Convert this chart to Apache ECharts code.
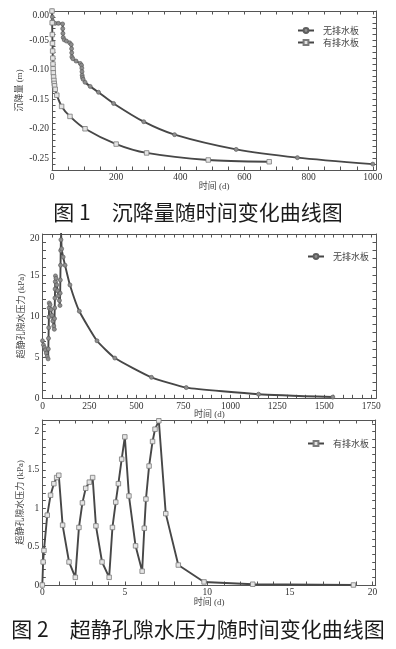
<!DOCTYPE html>
<html><head><meta charset="utf-8">
<script src="https://cdn.jsdelivr.net/npm/echarts/dist/echarts.min.js"></script>
<style>html,body{margin:0;padding:0;background:#fff}#c{width:396px;height:649px}</style>
</head><body><div id="c"></div>
<script>
// ---------- Data ----------
// Fig.1 settlement (m) vs time (d)
const t1No = [0,1,2,4,10,20,33,33.5,34,35,38,45,55,60,61,61.5,62,65,75,88,92,93,93.5,94,95,97,103,119,145,192,286,382,574,765,1000];
const s1No = [0,-0.01,-0.017,-0.02,-0.021,-0.021,-0.022,-0.03,-0.038,-0.045,-0.049,-0.051,-0.054,-0.057,-0.064,-0.071,-0.078,-0.081,-0.085,-0.089,-0.092,-0.097,-0.103,-0.109,-0.113,-0.116,-0.121,-0.128,-0.138,-0.157,-0.188,-0.21,-0.235,-0.249,-0.26];
const t1Yes = [0,0.5,1,1.5,2,2.5,3,3.5,4,5,6,7,8,10,15,30,56,103,200,295,487,677];
const s1Yes = [0,-0.02,-0.04,-0.055,-0.068,-0.08,-0.09,-0.098,-0.105,-0.112,-0.118,-0.123,-0.127,-0.133,-0.143,-0.162,-0.179,-0.2,-0.226,-0.241,-0.253,-0.256];
// Fig.2 upper: excess pore pressure (kPa), no drain board
const t2No = [0,5,10,15,20,25,30,31,32,33,34,35,36,40,45,50,55,60,63,64,65,66,67,68,69,72,76,80,85,90,93,94,95,96,97,98,99,102,110,120,146,196,290,385,580,765,1150,1545];
const p2No = [7.0,6.5,6.2,5.9,5.5,5.1,4.8,6.0,7.3,8.6,9.9,11.0,11.6,11.4,10.8,10.1,9.4,8.8,8.4,9.7,11.0,12.2,13.3,14.2,14.9,14.6,13.8,13.1,12.5,11.9,11.3,12.8,14.4,16.2,18.0,19.3,20.2,18.2,17.2,16.2,13.8,10.6,7.0,4.9,2.55,1.3,0.5,0.15];
// Fig.2 lower: excess pore pressure (kPa), with drain board
const t3Yes = [0,0.05,0.1,0.3,0.5,0.7,0.87,1.0,1.23,1.62,2.0,2.22,2.43,2.63,2.85,3.05,3.25,3.62,4.05,4.25,4.45,4.61,4.81,5.0,5.25,5.65,6.05,6.18,6.28,6.47,6.68,6.83,7.06,7.48,8.24,9.8,12.75,18.85];
const p3Yes = [0,0.3,0.45,0.91,1.17,1.32,1.40,1.43,0.78,0.30,0.10,0.75,1.07,1.26,1.34,1.40,0.77,0.30,0.10,0.75,1.08,1.32,1.64,1.93,1.16,0.51,0.18,0.74,1.12,1.55,1.87,2.03,2.14,0.93,0.26,0.04,0.01,0.0];

// Tick labels
const x1Labels = [0,200,400,600,800,1000];
const y1Labels = [0,-0.05,-0.10,-0.15,-0.20,-0.25];
const x2Labels = [0,250,500,750,1000,1250,1500,1750];
const y2Labels = [0,5,10,15,20];
const x3Labels = [0,5,10,15,20];
const y3Labels = [0,0.5,1,1.5,2];

const nameNo = '无排水板';
const nameYes = '有排水板';
const cap1 = '图 1　沉降量随时间变化曲线图';
const cap2 = '图 2　超静孔隙水压力随时间变化曲线图';

// ---------- helpers ----------
function steps(a, b, s) { const r = []; for (let v = a; v <= b + 1e-9; v += s) r.push(+v.toFixed(6)); return r; }
const zip = (a, b) => a.map((v, i) => [v, b[i]]);
const numFont = 'Liberation Serif, Noto Sans CJK SC';
const axisCol = '#555';
const lblCol = '#333';

function axisPair(kind, gi, min, max, labels, ticks, fmt, name, nameGap, topVal) {
  const base = {
    type: 'value', gridIndex: gi, min: min, max: max,
    splitLine: { show: false },
    axisLine: { show: true, onZero: false, lineStyle: { color: axisCol, width: 1 } },
    axisTick: { show: true, inside: true, length: 3.5, customValues: ticks, lineStyle: { color: axisCol, width: 1 } }
  };
  const main = Object.assign({}, base, {
    position: kind === 'x' ? 'bottom' : 'left',
    axisLabel: {
      customValues: labels,
      formatter: v => (topVal !== undefined && Math.abs(v - topVal) < 1e-9) ? '{sh|' + fmt(v) + '}' : fmt(v),
      rich: { sh: { padding: [9, 0, 0, 0], fontFamily: numFont, fontSize: 9.5, color: lblCol } },
      fontFamily: numFont, fontSize: 9.5, color: lblCol, margin: 3 },
    name: name, nameLocation: 'middle', nameGap: nameGap, nameMoveOverlap: false,
    nameRotate: kind === 'y' ? 90 : 0,
    nameTextStyle: { fontFamily: numFont, fontSize: 9, color: '#444' }
  });
  const mirror = Object.assign({}, base, {
    position: kind === 'x' ? 'top' : 'right',
    axisLabel: { show: false }
  });
  return [main, mirror];
}

const lineGray = '#474747';
function circSeries(name, xi, yi, data, smooth) {
  return { type: 'line', name: name, xAxisIndex: xi, yAxisIndex: yi, data: data,
    symbol: 'circle', symbolSize: 4, showSymbol: true, clip: true,
    smooth: smooth,
    lineStyle: { color: lineGray, width: 1.9 },
    itemStyle: { color: '#8e8e8e', borderColor: '#5e5e5e', borderWidth: 0.7 } };
}
function sqSeries(name, xi, yi, data, smooth) {
  return { type: 'line', name: name, xAxisIndex: xi, yAxisIndex: yi, data: data,
    symbol: 'rect', symbolSize: 4.5, showSymbol: true, clip: true,
    smooth: smooth,
    lineStyle: { color: lineGray, width: 1.9 },
    itemStyle: { color: '#e4e4e4', borderColor: '#7a7a7a', borderWidth: 0.8 } };
}

const x1 = axisPair('x', 0, 0, 1010, x1Labels, steps(0, 1000, 50), v => String(v), '时间 (d)', 12);
const y1 = axisPair('y', 0, -0.27, 0, y1Labels, steps(-0.27, 0, 0.01), v => v.toFixed(2), '沉降量 (m)', 28, 0);
const x2 = axisPair('x', 1, 0, 1775, x2Labels, steps(0, 1750, 50), v => String(v), '时间 (d)', 12);
const y2 = axisPair('y', 1, 0, 20, y2Labels, steps(0, 20, 1), v => String(v), '超静孔隙水压力 (kPa)', 16, 20);
const x3 = axisPair('x', 2, 0, 20.2, x3Labels, steps(0, 20, 1), v => String(v), '时间 (d)', 13);
const y3 = axisPair('y', 2, 0, 2.15, y3Labels, steps(0, 2.1, 0.1), v => String(v), '超静孔隙水压力 (kPa)', 17);

const legendCommon = { orient: 'vertical', itemWidth: 16, itemHeight: 6, itemGap: 3,
  textStyle: { fontFamily: 'Noto Sans CJK SC', fontSize: 9, color: '#444', padding: [0, 0, 0, 4] }, padding: 0 };

const option = {
  animation: false,
  backgroundColor: '#fff',
  grid: [
    { left: 52, top: 11, width: 324, height: 159 },
    { left: 42.5, top: 234, width: 333.5, height: 164.3 },
    { left: 42.3, top: 420, width: 333.4, height: 165 }
  ],
  xAxis: [x1[0], x1[1], x2[0], x2[1], x3[0], x3[1]],
  yAxis: [y1[0], y1[1], y2[0], y2[1], y3[0], y3[1]],
  legend: [
    Object.assign({ left: 297, top: 26, data: [nameNo, nameYes] }, legendCommon),
    Object.assign({ left: 307, top: 252, data: [nameNo] }, legendCommon),
    Object.assign({ left: 307, top: 439, data: [nameYes] }, legendCommon)
  ],
  series: [
    circSeries(nameNo, 0, 0, zip(t1No, s1No), 0.25),
    sqSeries(nameYes, 0, 0, zip(t1Yes, s1Yes), 0.25),
    circSeries(nameNo, 2, 2, zip(t2No, p2No), 0.15),
    sqSeries(nameYes, 4, 4, zip(t3Yes, p3Yes), false)
  ],
  graphic: [
    { type: 'text', left: 'center', top: 202, style: { text: cap1, font: '21px "Noto Sans CJK SC"', fill: '#1a1a1a' } },
    { type: 'text', left: 'center', top: 619, style: { text: cap2, font: '21px "Noto Sans CJK SC"', fill: '#1a1a1a' } }
  ]
};

const chart = echarts.init(document.getElementById('c'), null, { renderer: 'canvas' });
chart.setOption(option);
</script></body></html>
